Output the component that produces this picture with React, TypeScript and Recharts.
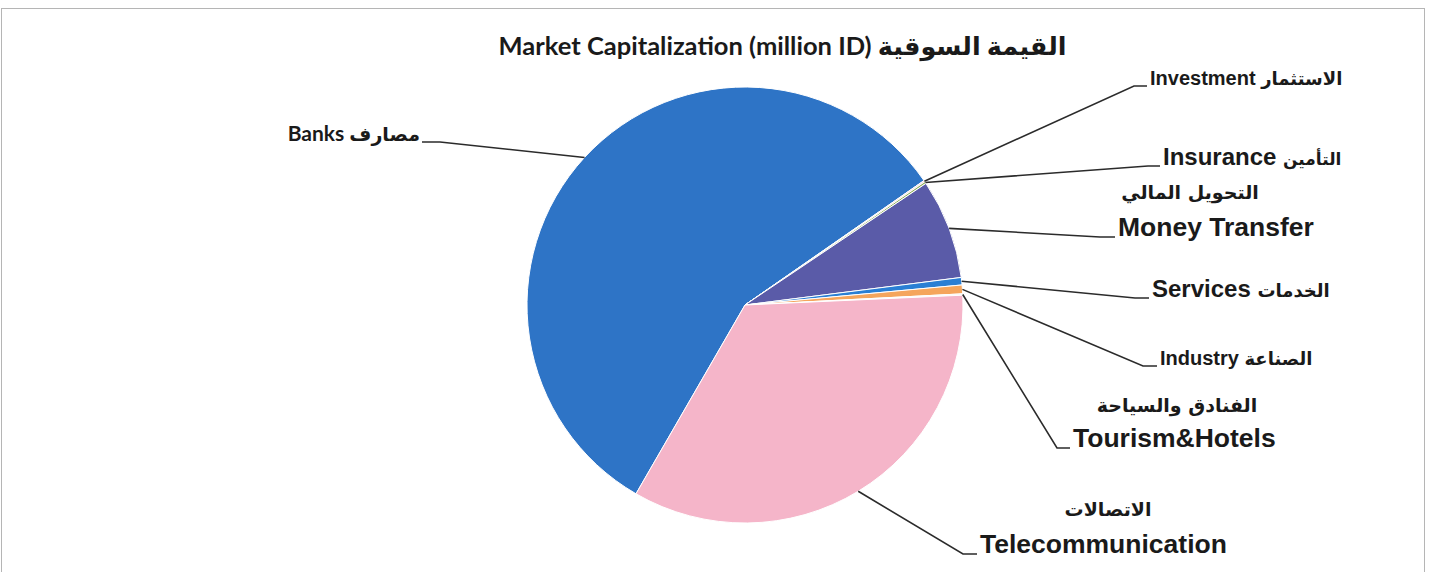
import { PieChart, Pie, Cell } from "recharts";

// sectors in drawing order (clockwise from the Banks/Telecom boundary)
const sectors = [
  "Banks",
  "Investment",
  "Insurance",
  "Money Transfer",
  "Services",
  "Industry",
  "Tourism&Hotels",
  "Telecommunication",
];
const arabicNames = [
  "مصارف",
  "الاستثمار",
  "التأمين",
  "التحويل المالي",
  "الخدمات",
  "الصناعة",
  "الفنادق والسياحة",
  "الاتصالات",
];
// share of market capitalization
const marketCap = [57.0, 0.1, 0.15, 7.4, 0.55, 0.65, 0.1, 34.05];
const sliceColors = [
  "#2e74c6",
  "#f2c4d4",
  "#8fae5a",
  "#5a5ba8",
  "#2a7fd4",
  "#f5a55c",
  "#f2f2f2",
  "#f5b5c9",
];

const data = sectors.map((name, i) => ({
  name,
  arabic: arabicNames[i],
  value: marketCap[i],
}));

const RAD = Math.PI / 180;
const W = 1437;
const H = 572;

// label placement: text position, elbow of the leader line, font sizes, and
// whether the Arabic name sits on its own line above
type LabelPos = {
  x: number;
  y: number;
  elbowX: number;
  size: number;
  arabicSize: number;
  anchor: "start" | "end";
  arabicAbove?: { x: number; y: number };
  font?: string;
};
const labelLayout: Record<string, LabelPos> = {
  Banks: { x: 420, y: 141, elbowX: 440, size: 21, arabicSize: 19, anchor: "end", font: "Lato, 'DejaVu Sans', sans-serif" },
  Investment: { x: 1150, y: 85, elbowX: 1134, size: 20, arabicSize: 18, anchor: "start" },
  Insurance: { x: 1163, y: 165, elbowX: 1148, size: 24, arabicSize: 17, anchor: "start" },
  "Money Transfer": { x: 1118, y: 236, elbowX: 1100, size: 26.5, arabicSize: 19, anchor: "start", arabicAbove: { x: 1190, y: 199 } },
  Services: { x: 1152, y: 297, elbowX: 1135, size: 24, arabicSize: 18, anchor: "start" },
  Industry: { x: 1160, y: 365, elbowX: 1143, size: 20, arabicSize: 18, anchor: "start" },
  "Tourism&Hotels": { x: 1073, y: 447, elbowX: 1057, size: 26.5, arabicSize: 19, anchor: "start", arabicAbove: { x: 1177, y: 412 } },
  Telecommunication: { x: 980, y: 553, elbowX: 963, size: 26.5, arabicSize: 19, anchor: "start", arabicAbove: { x: 1108, y: 516 } },
};

const labelFont = "'Liberation Sans', Arial, 'DejaVu Sans', sans-serif";
const arabicFont = "'DejaVu Sans', sans-serif";

const renderLabel = (props: any) => {
  const { cx, cy, midAngle, outerRadius, index } = props;
  const d = data[index];
  const pos = labelLayout[d.name];
  if (!pos) return null;
  const ex = cx + outerRadius * Math.cos(-midAngle * RAD);
  const ey = cy + outerRadius * Math.sin(-midAngle * RAD);
  const lineY = pos.y + 1;
  const startX = pos.anchor === "end" ? pos.x + 2 : pos.x - 3;
  const font = pos.font || labelFont;
  return (
    <g key={d.name}>
      <polyline
        points={`${ex},${ey} ${pos.elbowX},${lineY} ${startX},${lineY}`}
        fill="none"
        stroke="#2b2b2b"
        strokeWidth={1.6}
      />
      {pos.arabicAbove ? (
        <>
          <text x={pos.arabicAbove.x} y={pos.arabicAbove.y} textAnchor="middle" fontFamily={arabicFont} fontWeight="bold" fontSize={pos.arabicSize} fill="#1a1a1a">
            {d.arabic}
          </text>
          <text x={pos.x} y={pos.y} textAnchor={pos.anchor} fontFamily={font} fontWeight="bold" fontSize={pos.size} fill="#1a1a1a">
            {d.name}
          </text>
        </>
      ) : (
        <text x={pos.x} y={pos.y} textAnchor={pos.anchor} fontFamily={font} fontWeight="bold" fontSize={pos.size} fill="#1a1a1a">
          {`${d.name} `}
          <tspan fontFamily={arabicFont} fontSize={pos.arabicSize}>
            {d.arabic}
          </tspan>
        </text>
      )}
    </g>
  );
};

export default function App() {
  return (
    <div style={{ position: "absolute", left: 0, top: 0, width: W, height: H, background: "#fff", overflow: "hidden" }}>
      <div
        style={{
          position: "absolute",
          left: 1,
          top: 8,
          width: 1424,
          height: 580,
          border: "1.5px solid #b5b5b5",
          boxSizing: "border-box",
        }}
      />
      <div
        style={{
          position: "absolute",
          left: 0,
          width: 1565,
          top: 30,
          textAlign: "center",
          fontFamily: "Lato, 'DejaVu Sans', sans-serif",
          fontWeight: "bold",
          fontSize: 25.5,
          color: "#1a1a1a",
          whiteSpace: "nowrap",
        }}
      >
        Market Capitalization (million ID) القيمة السوقية
      </div>
      <div style={{ position: "absolute", left: 0, top: 0 }}>
        <PieChart width={W} height={H} margin={{ top: 0, right: 0, bottom: 0, left: 0 }}>
          <Pie
            data={data}
            dataKey="value"
            nameKey="name"
            cx={745}
            cy={305}
            outerRadius={218}
            startAngle={240}
            endAngle={-120}
            stroke="#ffffff"
            strokeWidth={1}
            label={renderLabel}
            labelLine={false}
            isAnimationActive={false}
          >
            {data.map((d, i) => (
              <Cell key={d.name} fill={sliceColors[i]} />
            ))}
          </Pie>
        </PieChart>
      </div>
    </div>
  );
}
